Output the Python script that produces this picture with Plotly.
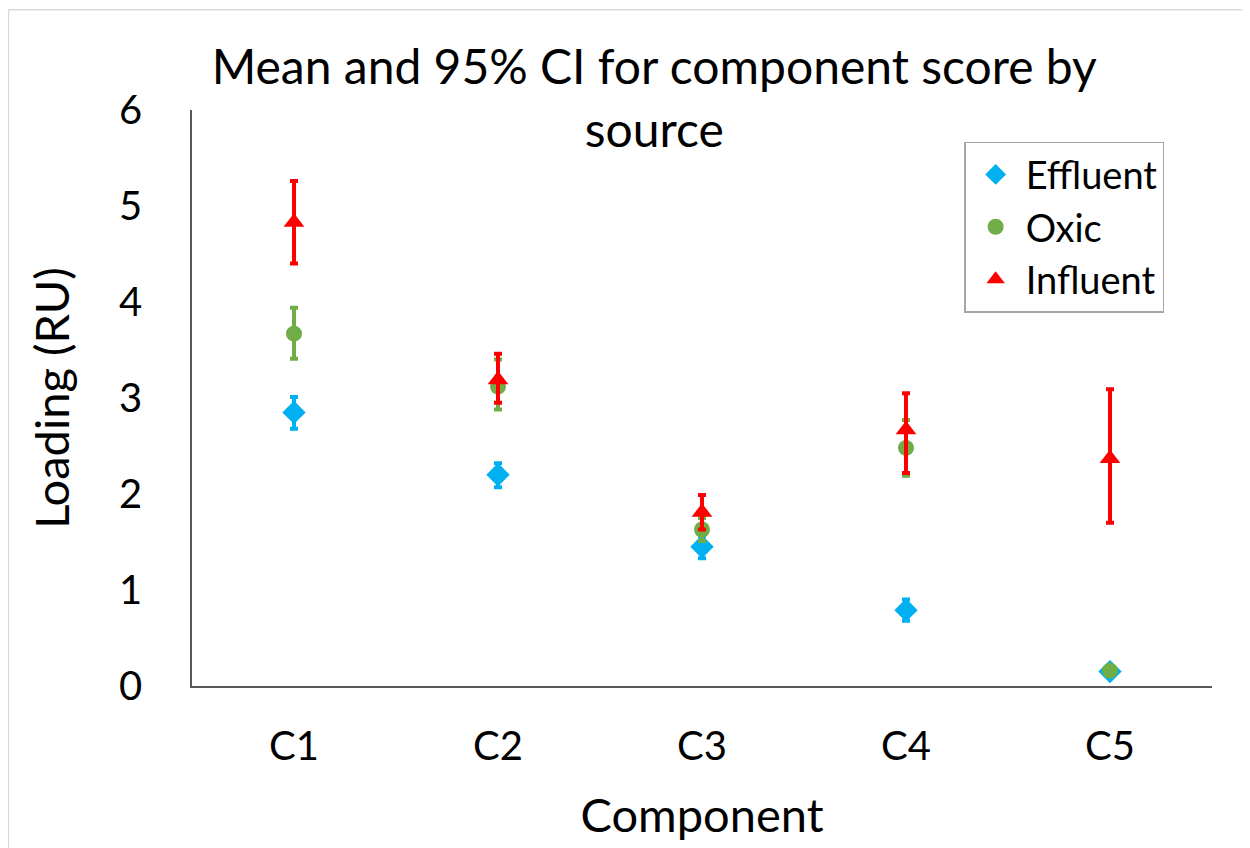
import plotly.graph_objects as go

categories = ["C1", "C2", "C3", "C4", "C5"]

effluent_mean = [2.85, 2.20, 1.45, 0.79, 0.15]
effluent_hi = [3.01, 2.32, 1.56, 0.90, 0.17]
effluent_lo = [2.68, 2.07, 1.33, 0.68, 0.13]

oxic_mean = [3.67, 3.12, 1.63, 2.48, 0.16]
oxic_hi = [3.94, 3.40, 1.75, 2.77, 0.18]
oxic_lo = [3.41, 2.88, 1.51, 2.19, 0.14]

influent_mean = [4.83, 3.19, 1.81, 2.67, 2.37]
influent_hi = [5.26, 3.46, 1.99, 3.05, 3.09]
influent_lo = [4.40, 2.95, 1.63, 2.22, 1.70]

series = [
    ("Effluent", effluent_mean, effluent_hi, effluent_lo, "#00B0F0", "diamond", 18),
    ("Oxic", oxic_mean, oxic_hi, oxic_lo, "#70AD47", "circle", 16),
    ("Influent", influent_mean, influent_hi, influent_lo, "#FF0000", "triangle-up", 18),
]

FONT = "Lato"
fig = go.Figure()
for name, m, hi, lo, col, sym, sz in series:
    fig.add_trace(go.Scatter(
        x=categories, y=m, name=name, mode="markers",
        marker=dict(symbol=sym, size=sz, color=col, line=dict(width=0)),
        error_y=dict(type="data", symmetric=False,
                     array=[h - v for h, v in zip(hi, m)],
                     arrayminus=[v - l for v, l in zip(m, lo)],
                     color=col, thickness=4, width=4),
    ))

fig.update_layout(
    width=1250, height=848,
    margin=dict(l=184, r=46, t=102, b=170),
    plot_bgcolor="white", paper_bgcolor="white",
    font=dict(family=FONT, color="black"),
    title=dict(text="Mean and 95% CI for component score by<br>source",
               x=0.517, xanchor="center", y=0.91, yanchor="middle",
               font=dict(size=48, family=FONT, color="black")),
    xaxis=dict(type="category", range=[-0.5, 4.5], showline=True,
               linecolor="#595959", linewidth=1.5, showgrid=False, ticks="",
               tickfont=dict(size=40), ticklabelstandoff=24,
               title=dict(text="Component", font=dict(size=47), standoff=31)),
    yaxis=dict(range=[0, 6], dtick=1, showline=True, linecolor="#595959",
               linewidth=1.5, showgrid=False, zeroline=False, ticks="",
               tickfont=dict(size=40), ticklabelstandoff=40,
               title=dict(text="Loading (RU)", font=dict(size=47), standoff=35)),
    legend=dict(x=0.757, y=0.945, xanchor="left", yanchor="top",
                bordercolor="#A6A6A6", borderwidth=1.5, bgcolor="white",
                font=dict(size=38), tracegroupgap=0, itemwidth=50,
                entrywidth=150, entrywidthmode="pixels"),
    showlegend=True,
)
fig.add_shape(type="rect", xref="paper", yref="paper",
              x0=-0.18, x1=1.04, y0=-0.33, y1=1.174,
              line=dict(color="#D9D9D9", width=1.5), layer="below")
fig.write_html("out.html")
